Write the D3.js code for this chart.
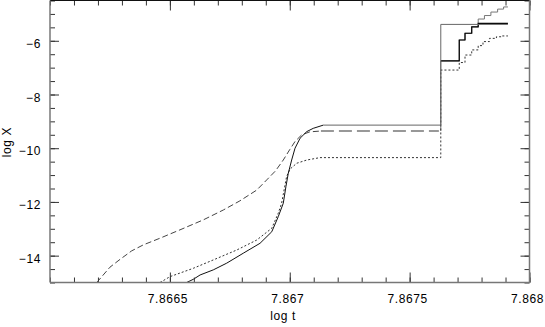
<!DOCTYPE html>
<html><head><meta charset="utf-8">
<script src="https://cdn.jsdelivr.net/npm/d3@7/dist/d3.min.js"></script>
<style>
body{margin:0;background:#fff}
svg{display:block}
text{font-family:"Liberation Sans",Arial,Helvetica,sans-serif;font-size:12px;letter-spacing:0.6px;fill:#000}
</style>
</head><body>
<svg id="c" width="545" height="327"></svg>
<script>
// ---- data ----
const xDomain = [7.866, 7.868];
const yDomain = [-15, -4.5];
const xTickLabels = [7.8665, 7.867, 7.8675, 7.868];
const yTickLabels = [-14, -12, -10, -8, -6];
const xTitle = "log t";
const yTitle = "log X";

// solid black series: rising part and upper steps
const solidRise = [[7.866570,-15.0],[7.866598,-14.88],[7.866626,-14.72],[7.866681,-14.53],[7.866737,-14.28],
  [7.866806,-13.91],[7.866876,-13.54],[7.866925,-13.11],[7.866952,-12.55],[7.866973,-12.05],[7.866984,-11.43],
  [7.866994,-10.93],[7.867008,-10.44],[7.867022,-10.00],[7.867043,-9.63],[7.867071,-9.38],[7.867098,-9.26],
  [7.867140,-9.14]];
const solidSteps = [[7.867630,-6.75],[7.867707,-6.75],[7.867707,-5.97],[7.867731,-5.97],
  [7.867731,-5.72],[7.867759,-5.72],[7.867759,-5.48],[7.867786,-5.48],[7.867786,-5.35],[7.867910,-5.35]];
// thin solid series (plateau and jump)
const thinLine = [[7.867140,-9.14],[7.867630,-9.14],[7.867630,-5.39],[7.867910,-5.39]];
// dashed series: rise, plateau, steps
const dashedRise = [[7.866195,-15.0],[7.866250,-14.43],[7.866292,-14.14],[7.866341,-13.82],[7.866389,-13.60],
  [7.866459,-13.35],[7.866542,-13.04],[7.866639,-12.67],[7.866723,-12.30],[7.866792,-11.96],[7.866862,-11.56],
  [7.866904,-11.18],[7.866940,-10.85],[7.866973,-10.44],[7.867000,-10.05],[7.867022,-9.75],[7.867050,-9.50],
  [7.867084,-9.39],[7.867130,-9.36]];
const dashedPlateau = [[7.867130,-9.36],[7.867622,-9.36]];
const dashedSteps = [[7.867630,-9.36],[7.867630,-6.75],[7.867707,-6.75],[7.867707,-5.97],[7.867731,-5.97],
  [7.867731,-5.72],[7.867759,-5.72],[7.867759,-5.48],[7.867786,-5.48],[7.867786,-5.19],[7.867812,-5.19],
  [7.867812,-5.06],[7.867839,-5.06],[7.867839,-4.93],[7.867867,-4.93],[7.867867,-4.82],[7.867892,-4.82],
  [7.867892,-4.74],[7.867910,-4.74]];
// dotted series
const dottedLine = [[7.866459,-15.0],[7.866501,-14.78],[7.866598,-14.47],[7.866681,-14.16],[7.866779,-13.79],
  [7.866862,-13.42],[7.866925,-12.98],[7.866952,-12.42],[7.866966,-12.05],[7.866987,-11.05],[7.867001,-10.78],
  [7.867029,-10.56],[7.867071,-10.44],[7.867126,-10.35],[7.867630,-10.35],[7.867630,-7.09],[7.867707,-7.09],
  [7.867707,-6.81],[7.867731,-6.81],[7.867731,-6.53],[7.867759,-6.53],[7.867759,-6.34],[7.867786,-6.34],
  [7.867786,-6.18],[7.867806,-6.18],[7.867806,-6.03],[7.867833,-6.03],[7.867833,-5.91],[7.867862,-5.91],
  [7.867862,-5.85],[7.867885,-5.85],[7.867885,-5.82],[7.867910,-5.82]];

// ---- layout ----
const L = 50, R = 529.5, T = 0.5, B = 282.5;
const svg = d3.select("#c");
const x = d3.scaleLinear().domain(xDomain).range([L, R]);
const y = d3.scaleLinear().domain(yDomain).range([B, T]);

const xMinor = d3.range(0, 21).map(i => xDomain[0] + i * 0.0001);
const yMinor = d3.range(0, 22).map(i => yDomain[0] + i * 0.5);

svg.append("clipPath").attr("id","clip").append("rect")
  .attr("x", L).attr("y", T).attr("width", R - L).attr("height", B - T);

const line = d3.line().x(d => x(d[0])).y(d => y(d[1]));
const g = svg.append("g").attr("clip-path","url(#clip)");

g.append("path").datum(dashedRise).attr("d", line).attr("fill","none")
  .attr("stroke","#444").attr("stroke-width",1).attr("stroke-dasharray","6,3");
g.append("path").datum(dashedPlateau).attr("d", line).attr("fill","none")
  .attr("stroke","#777").attr("stroke-width",1.6).attr("stroke-dasharray","13,5");
g.append("path").datum(dashedSteps).attr("d", line).attr("fill","none")
  .attr("stroke","#777").attr("stroke-width",1);
g.append("path").datum(dottedLine).attr("d", line).attr("fill","none")
  .attr("stroke","#333").attr("stroke-width",1).attr("stroke-dasharray","2,2");
g.append("path").datum(solidRise).attr("d", line).attr("fill","none")
  .attr("stroke","#111").attr("stroke-width",1);
g.append("path").datum(solidSteps).attr("d", line).attr("fill","none")
  .attr("stroke","#000").attr("stroke-width",1.2);
g.append("path").datum(thinLine).attr("d", line).attr("fill","none")
  .attr("stroke","#666").attr("stroke-width",1);

// ---- axes ----
function styleAxis(sel){
  sel.select(".domain").remove();
  sel.selectAll(".tick line").attr("stroke","#333");
}
// bottom
svg.append("g").attr("transform",`translate(0,${B})`)
  .call(d3.axisBottom(x).tickValues(xMinor).tickSize(-5).tickFormat(""))
  .call(styleAxis);
svg.append("g").attr("transform",`translate(0,${B})`)
  .call(d3.axisBottom(x).tickValues(xTickLabels).tickSize(-10).tickPadding(12).tickFormat(d3.format("")))
  .call(styleAxis)
  .call(s => s.selectAll("text").attr("dx",-2.5).attr("font-size",null).attr("font-family",null));
// top
svg.append("g").attr("transform",`translate(0,${T})`)
  .call(d3.axisTop(x).tickValues(xMinor).tickSize(-5).tickFormat("")).call(styleAxis);
svg.append("g").attr("transform",`translate(0,${T})`)
  .call(d3.axisTop(x).tickValues(xTickLabels).tickSize(-10).tickFormat("")).call(styleAxis);
// left
svg.append("g").attr("transform",`translate(${L},0)`)
  .call(d3.axisLeft(y).tickValues(yMinor).tickSize(-5).tickFormat("")).call(styleAxis);
svg.append("g").attr("transform",`translate(${L},0)`)
  .call(d3.axisLeft(y).tickValues(yTickLabels).tickSize(-9).tickPadding(9).tickFormat(d3.format("")))
  .call(styleAxis)
  .call(s => s.selectAll("text").attr("dy","0.55em").attr("font-size",null).attr("font-family",null));
// right
svg.append("g").attr("transform",`translate(${R},0)`)
  .call(d3.axisRight(y).tickValues(yMinor).tickSize(-5).tickFormat("")).call(styleAxis);
svg.append("g").attr("transform",`translate(${R},0)`)
  .call(d3.axisRight(y).tickValues(yTickLabels).tickSize(-9).tickFormat("")).call(styleAxis);

// frame
svg.append("line").attr("x1",L).attr("x2",R).attr("y1",T).attr("y2",T).attr("stroke","#111");
svg.append("line").attr("x1",L).attr("x2",R).attr("y1",B).attr("y2",B).attr("stroke","#777").attr("stroke-width",1.5);
svg.append("line").attr("x1",L).attr("x2",L).attr("y1",T).attr("y2",B).attr("stroke","#777").attr("stroke-width",1.5);
svg.append("line").attr("x1",R).attr("x2",R).attr("y1",T).attr("y2",B).attr("stroke","#777").attr("stroke-width",1.5);

// titles
svg.append("text").attr("x", 283).attr("y", 320).attr("text-anchor","middle").text(xTitle);
svg.append("text").attr("transform","translate(10.5,142) rotate(-90)").attr("text-anchor","middle").text(yTitle);
</script>
</body></html>
